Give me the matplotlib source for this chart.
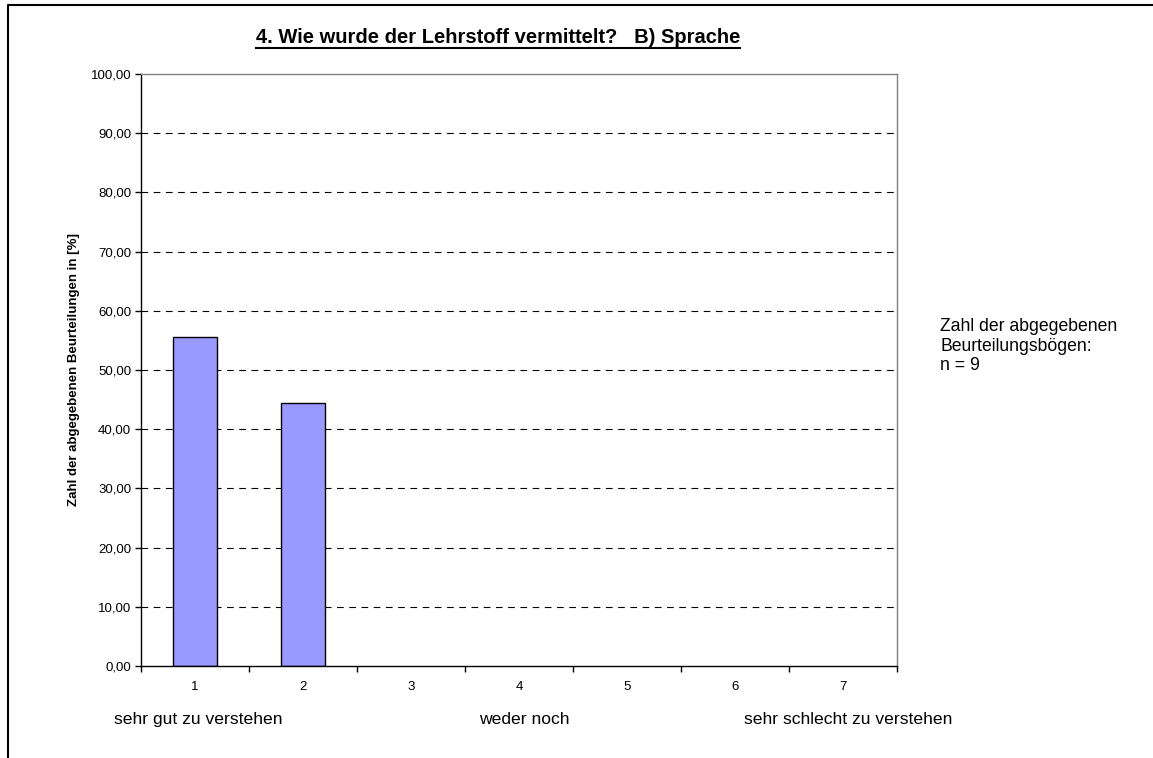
import matplotlib.pyplot as plt
import numpy as np
from matplotlib.lines import Line2D

CATEGORIES = ["1", "2", "3", "4", "5", "6", "7"]
PERCENTS = [55.56, 44.44, 0, 0, 0, 0, 0]
Y_TICKS = [0, 10, 20, 30, 40, 50, 60, 70, 80, 90, 100]
SCALE_LABELS = [(0.25, "sehr gut zu verstehen"), (3.63, "weder noch"), (6.08, "sehr schlecht zu verstehen")]
TITLE = "4. Wie wurde der Lehrstoff vermittelt?   B) Sprache"
YLABEL = "Zahl der abgegebenen Beurteilungen in [%]"
NOTE = "Zahl der abgegebenen\nBeurteilungsbögen:\nn = 9"

plt.rcParams["font.family"] = ["Liberation Sans", "DejaVu Sans"]

fig = plt.figure(figsize=(11.53, 7.58), dpi=100)
ax = fig.add_axes([141 / 1153, 1 - 666 / 758, (897 - 141) / 1153, (666 - 74) / 758])

x = np.arange(1, len(CATEGORIES) + 1)
# empty bars get no outline, like the original
edge_w = [1.0 if v > 0 else 0.0 for v in PERCENTS]
ax.bar(x, PERCENTS, width=0.4, color="#9999ff", edgecolor="black", linewidth=edge_w, zorder=2)

ax.set_xlim(0.5, len(CATEGORIES) + 0.5)
ax.set_ylim(0, 100)
ax.set_yticks(Y_TICKS)
ax.set_yticklabels([f"{v:.2f}".replace(".", ",") for v in Y_TICKS], fontsize=9.5)

# category labels centred, ticks on the category borders
ax.set_xticks(np.arange(0.5, len(CATEGORIES) + 1, 1.0))
ax.set_xticklabels([])
ax.set_xticks(x, minor=True)
ax.set_xticklabels(CATEGORIES, minor=True, fontsize=9.5)
ax.tick_params(axis="x", which="minor", length=0, pad=11)
ax.tick_params(axis="x", which="major", length=4, width=1, direction="out")
ax.tick_params(axis="y", length=4, width=1, direction="out", pad=3)

for v in Y_TICKS[1:-1]:
    ax.axhline(v, color="black", lw=0.8, ls=(0, (6, 5)), zorder=1)

ax.spines["left"].set_color("black")
ax.spines["bottom"].set_color("black")
ax.spines["top"].set_color("#808080")
ax.spines["right"].set_color("#808080")
for s in ax.spines.values():
    s.set_linewidth(1.0)
    s.set_zorder(4)

ax.set_ylabel(YLABEL, fontsize=9.5, fontweight="bold", labelpad=8)

for xpos, label in SCALE_LABELS:
    ax.text(xpos, -0.09, label, transform=ax.get_xaxis_transform(),
            ha="left", va="center", fontsize=12.6)

fig.text(940 / 1153, 1 - 318 / 758, NOTE, ha="left", va="top", fontsize=12.7, linespacing=1.2)

title = fig.text(498 / 1153, 1 - 43 / 758, TITLE, ha="center", va="baseline",
                 fontsize=14.5, fontweight="bold")

# underline the title
fig.canvas.draw()
bb = title.get_window_extent().transformed(fig.transFigure.inverted())
uy = 1 - 47.5 / 758
fig.add_artist(Line2D([bb.x0, bb.x1], [uy, uy], transform=fig.transFigure, color="black", lw=1.5))

# frame around the chart area
fig.add_artist(Line2D([8 / 1153, 8 / 1153, 1], [0, 1 - 5 / 758, 1 - 5 / 758],
                      transform=fig.transFigure, color="black", lw=1.5))

fig.savefig("out.png", dpi=100)
